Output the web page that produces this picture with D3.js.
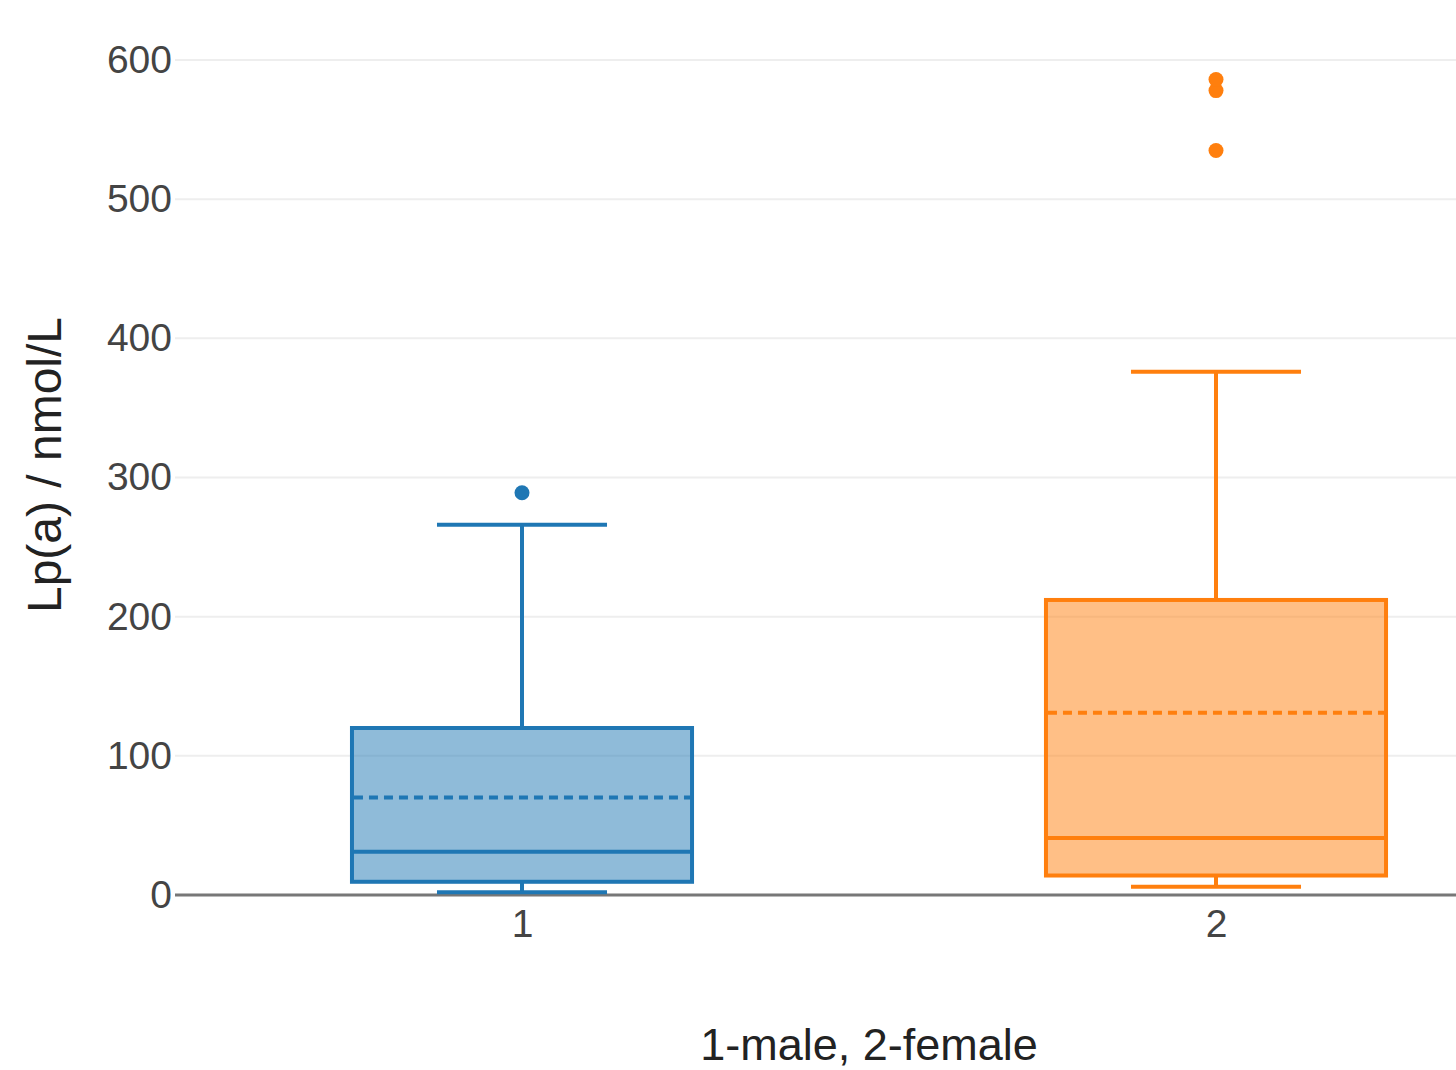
<!DOCTYPE html>
<html>
<head>
<meta charset="utf-8">
<script src="https://cdn.jsdelivr.net/npm/d3@7"></script>
<style>
  html, body { margin: 0; padding: 0; background: #fff; overflow: hidden; }
  svg { display: block; font-family: "Liberation Sans", Arial, sans-serif; }
</style>
</head>
<body>
<svg id="chart" width="1456" height="1070"></svg>
<script>
// ---- data ----
const categories = ["1", "2"];
const colors = ["#1f77b4", "#ff7f0e"];
const lowerFence = [2, 6];
const q1 = [9.5, 14];
const median = [31, 41];
const q3 = [120, 212];
const upperFence = [266, 376];
const mean = [70, 131];
const outliers = [[289], [535, 578, 586]];
const yTicks = [0, 100, 200, 300, 400, 500, 600];
const xTitle = "1-male, 2-female";
const yTitle = "Lp(a) / nmol/L";

const svg = d3.select("#chart");
const plotLeft = 175, plotRight = 1563, plotTop = 60, plotBottom = 895;

const x = d3.scalePoint().domain(categories).range([plotLeft, plotRight]).padding(0.5);
const y = d3.scaleLinear().domain([0, 600]).range([plotBottom, plotTop]);
const boxW = x.step() * 0.49;

// gridlines
svg.append("g").selectAll("line").data(yTicks.filter(d => d !== 0)).join("line")
  .attr("x1", plotLeft).attr("x2", plotRight)
  .attr("y1", d => y(d)).attr("y2", d => y(d))
  .attr("stroke", "#eeeeee").attr("stroke-width", 2);

// zero line
svg.append("line").attr("x1", plotLeft).attr("x2", plotRight)
  .attr("y1", y(0)).attr("y2", y(0))
  .attr("stroke", "#777").attr("stroke-width", 3);

// y axis tick labels
const yAxis = d3.axisLeft(y).tickValues(yTicks).tickSize(0).tickPadding(3);
const ya = svg.append("g").attr("transform", `translate(${plotLeft},0)`).call(yAxis);
ya.select(".domain").remove();
ya.selectAll("text").attr("font-size", 39).attr("fill", "#444")
  .attr("font-family", "Liberation Sans, Arial, sans-serif");

// x axis tick labels
const xAxis = d3.axisBottom(x).tickSize(0).tickPadding(14);
const xa = svg.append("g").attr("transform", `translate(0,${plotBottom})`).call(xAxis);
xa.select(".domain").remove();
xa.selectAll("text").attr("font-size", 39).attr("fill", "#444")
  .attr("font-family", "Liberation Sans, Arial, sans-serif");

// boxes
categories.forEach((c, i) => {
  const cx = x(c);
  const col = colors[i];
  const g = svg.append("g");
  // whiskers
  g.append("line").attr("x1", cx).attr("x2", cx).attr("y1", y(q3[i])).attr("y2", y(upperFence[i]))
    .attr("stroke", col).attr("stroke-width", 4);
  g.append("line").attr("x1", cx).attr("x2", cx).attr("y1", y(q1[i])).attr("y2", y(lowerFence[i]))
    .attr("stroke", col).attr("stroke-width", 4);
  // caps
  [upperFence[i], lowerFence[i]].forEach(v => {
    g.append("line").attr("x1", cx - boxW / 4).attr("x2", cx + boxW / 4)
      .attr("y1", y(v)).attr("y2", y(v))
      .attr("stroke", col).attr("stroke-width", 4);
  });
  // box
  g.append("rect").attr("x", cx - boxW / 2).attr("width", boxW)
    .attr("y", y(q3[i])).attr("height", y(q1[i]) - y(q3[i]))
    .attr("fill", col).attr("fill-opacity", 0.5)
    .attr("stroke", col).attr("stroke-width", 4);
  // median
  g.append("line").attr("x1", cx - boxW / 2).attr("x2", cx + boxW / 2)
    .attr("y1", y(median[i])).attr("y2", y(median[i]))
    .attr("stroke", col).attr("stroke-width", 4);
  // mean
  g.append("line").attr("x1", cx - boxW / 2 + 2).attr("x2", cx + boxW / 2 - 2)
    .attr("y1", y(mean[i])).attr("y2", y(mean[i]))
    .attr("stroke", col).attr("stroke-width", 4).attr("stroke-dasharray", "9,6");
  // outliers
  g.selectAll("circle").data(outliers[i]).join("circle")
    .attr("cx", cx).attr("cy", d => y(d)).attr("r", 7.5).attr("fill", col);
});

// axis titles
svg.append("text").attr("x", (plotLeft + plotRight) / 2).attr("y", 1060)
  .attr("text-anchor", "middle").attr("font-size", 45).attr("fill", "#222")
  .text(xTitle);
svg.append("text").attr("transform", `translate(61,465) rotate(-90)`)
  .attr("text-anchor", "middle").attr("font-size", 48).attr("fill", "#222")
  .text(yTitle);
</script>
</body>
</html>
